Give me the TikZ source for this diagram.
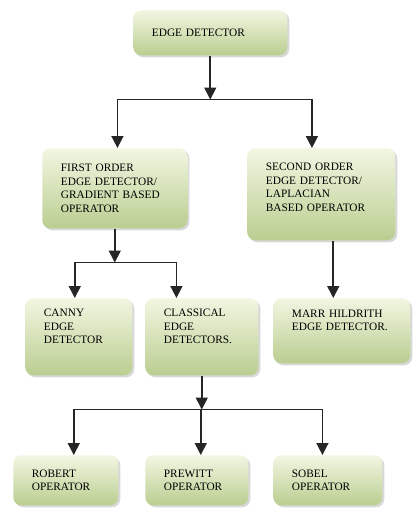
\documentclass[tikz,border=0pt]{standalone}
\usepackage{fontspec}
\setmainfont{Liberation Serif}
\usetikzlibrary{positioning}
\usetikzlibrary{calc}
\usetikzlibrary{shadows}
\usetikzlibrary{arrows.meta}
\definecolor{boxlight}{RGB}{242,246,226}
\definecolor{boxdark}{RGB}{186,206,144}
\tikzset{
    % A solid triangle, heavy enough to read at this size
    >={Triangle[length=9pt,width=9pt]},
%
    % Rounded box with a soft green shade and a grey shadow
    stage box/.style={
        rounded corners=6pt, top color=boxlight, bottom color=boxdark,
        drop shadow={shadow xshift=1.5pt, shadow yshift=-1.5pt,
            fill=black!30},
        anchor=north west, align=left, inner xsep=14pt,
        font=\fontsize{8.5}{10.2}\selectfont},
%
    % Pushes the text towards the top of a tall box
    high text/.style={text depth=#1},
%
    % Dark connector line
    link/.style={draw=black!85, line width=1.2pt}}

\begin{document}
\begin{tikzpicture}[x=0.75pt, y=-0.75pt]

\useasboundingbox (0,0) rectangle (414,512);

\node [stage box, text width=87.5pt, minimum height=33.75pt]
    (detector) at (133,10) {EDGE DETECTOR};

\node [stage box, text width=80.75pt, minimum height=60pt]
    (first) at (42,148) {FIRST ORDER\\EDGE DETECTOR/\\GRADIENT BASED\\OPERATOR};
\node [stage box, text width=83pt, minimum height=69pt, high text=41pt]
    (second) at (247,148) {SECOND ORDER\\EDGE DETECTOR/\\LAPLACIAN\\BASED OPERATOR};

\node [stage box, text width=52.25pt, minimum height=57.75pt, high text=36pt]
    (canny) at (25,298) {CANNY\\EDGE\\DETECTOR};
\node [stage box, text width=56.75pt, minimum height=57.75pt, high text=36pt]
    (classical) at (145,298) {CLASSICAL\\EDGE\\DETECTORS.};
\node [stage box, text width=74.75pt, minimum height=48.75pt, high text=26pt]
    (marr) at (273,298) {MARR HILDRITH\\EDGE DETECTOR.};

\node [stage box, text width=50.75pt, minimum height=37.5pt]
    (robert) at (13,455) {ROBERT\\OPERATOR};
\node [stage box, text width=49.25pt, minimum height=37.5pt]
    (prewitt) at (145,455) {PREWITT\\OPERATOR};
\node [stage box, text width=53.75pt, minimum height=37.5pt]
    (sobel) at (273,455) {SOBEL\\OPERATOR};

% first split, under the top box
\coordinate (split one) at ($(detector.south)+(0,44)$);
\draw [link, ->] (detector.south) -- (split one);
\draw [link, ->] (split one) -| ([xshift=2pt]first.north);
\draw [link, ->] (split one) -| ([xshift=-7pt]second.north);

% first order branch
\coordinate (split two) at ($(first.south)+(0,34)$);
\draw [link, ->] (first.south) -- (split two);
\draw [link, ->] (split two) -| ([xshift=-3pt]canny.north);
\draw [link, ->] (split two) -| ([xshift=-19pt]classical.north);

% second order branch
\draw [link, ->] ([xshift=9pt]second.south)
    -- ([xshift=9pt]second.south |- marr.north);

% classical operators
\coordinate (split three) at ($(classical.south)+(0,34)$);
\draw [link, ->] (classical.south) -- (split three);
\draw [link, ->] (split three) -| ([xshift=6pt]robert.north);
\draw [link, ->] (split three) -| ([xshift=3pt]prewitt.north);
\draw [link, ->] (split three) -| ([xshift=-4pt]sobel.north);

\end{tikzpicture}
\end{document}
